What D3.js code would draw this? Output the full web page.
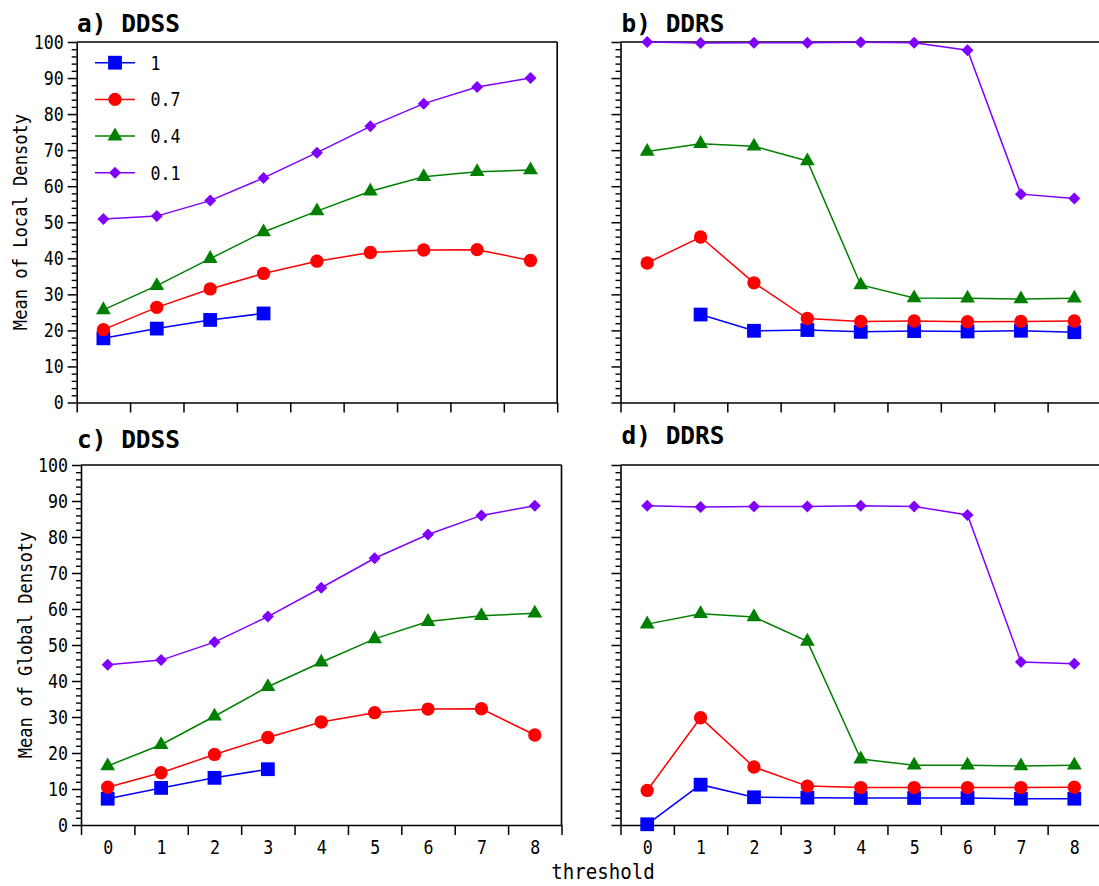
<!DOCTYPE html>
<html>
<head>
<meta charset="utf-8">
<script src="https://cdn.jsdelivr.net/npm/d3@7"></script>
<style>
body { margin: 0; background: #fff; }
text { font-family: "DejaVu Sans Mono", monospace; fill: #000; }
</style>
</head>
<body>
<svg id="chart" width="1099" height="886"></svg>
<script>
// x categories and y ticks
var thresholds = [0, 1, 2, 3, 4, 5, 6, 7, 8];
var seriesNames = ["1", "0.7", "0.4", "0.1"];
var yTicks = [0, 10, 20, 30, 40, 50, 60, 70, 80, 90, 100];

// mean of local density, DDSS
var localDDSS_1 = [17.8, 20.5, 22.9, 24.7, null, null, null, null, null];
var localDDSS_07 = [20.2, 26.4, 31.5, 35.8, 39.2, 41.6, 42.3, 42.4, 39.4];
var localDDSS_04 = [25.7, 32.4, 39.9, 47.3, 53.1, 58.6, 62.6, 64.0, 64.5];
var localDDSS_01 = [50.9, 51.7, 56.0, 62.3, 69.3, 76.6, 82.9, 87.5, 90.0];

// mean of local density, DDRS
var localDDRS_1 = [null, 24.4, 19.9, 20.1, 19.6, 19.8, 19.7, 19.9, 19.5];
var localDDRS_07 = [38.7, 45.9, 33.2, 23.3, 22.5, 22.6, 22.4, 22.5, 22.6];
var localDDRS_04 = [69.6, 71.8, 71.1, 67.0, 32.6, 29.0, 28.9, 28.7, 28.9];
var localDDRS_01 = [100.0, 99.7, 99.8, 99.8, 99.9, 99.8, 97.7, 57.8, 56.6];

// mean of global density, DDSS
var globalDDSS_1 = [7.3, 10.3, 13.1, 15.5, null, null, null, null, null];
var globalDDSS_07 = [10.5, 14.5, 19.6, 24.3, 28.6, 31.2, 32.2, 32.3, 25.0];
var globalDDSS_04 = [16.4, 22.3, 30.2, 38.4, 45.2, 51.7, 56.5, 58.1, 58.8];
var globalDDSS_01 = [44.5, 45.8, 50.8, 57.9, 65.9, 74.1, 80.7, 86.0, 88.7];

// mean of global density, DDRS
var globalDDRS_1 = [0.2, 11.2, 7.7, 7.6, 7.5, 7.5, 7.5, 7.3, 7.3];
var globalDDRS_07 = [9.6, 29.8, 16.1, 10.8, 10.4, 10.4, 10.4, 10.4, 10.5];
var globalDDRS_04 = [55.8, 58.7, 57.8, 51.0, 18.3, 16.6, 16.6, 16.4, 16.6];
var globalDDRS_01 = [88.7, 88.3, 88.5, 88.5, 88.7, 88.5, 86.1, 45.3, 44.8];

var colors = ["#0000ff", "#ff0000", "#008000", "#8000ff"];
var symbols = [
  d3.symbol().type(d3.symbolSquare).size(190),
  d3.symbol().type(d3.symbolCircle).size(140),
  d3.symbol().type(d3.symbolTriangle).size(95),
  d3.symbol().type(d3.symbolSquare).size(72)
];
var symbolRotate = [0, 0, 0, 45];

var svg = d3.select("#chart");

var panels = [
  {title: "a) DDSS", left: 76.7, top: 42, bottom: 402.5, tx: 77, ty: 31.5, yLabels: true, xLabels: false,
   series: [localDDSS_1, localDDSS_07, localDDSS_04, localDDSS_01]},
  {title: "b) DDRS", left: 620.5, top: 42, bottom: 402.5, tx: 621.5, ty: 32, yLabels: false, xLabels: false,
   series: [localDDRS_1, localDDRS_07, localDDRS_04, localDDRS_01]},
  {title: "c) DDSS", left: 81, top: 465, bottom: 825, tx: 77, ty: 448, yLabels: true, xLabels: true,
   series: [globalDDSS_1, globalDDSS_07, globalDDSS_04, globalDDSS_01]},
  {title: "d) DDRS", left: 620.5, top: 465, bottom: 825, tx: 621.5, ty: 444, yLabels: false, xLabels: true,
   series: [globalDDRS_1, globalDDRS_07, globalDDRS_04, globalDDRS_01]}
];

function monoText(sel, adv) {
  sel.attr("textLength", function() { return this.textContent.length * adv; })
    .attr("lengthAdjust", "spacingAndGlyphs");
}

panels.forEach(function(p) {
  var w = 480.5;
  var x = d3.scaleLinear().domain([-0.5, 8.5]).range([p.left, p.left + w]);
  var y = d3.scaleLinear().domain([0, 100]).range([p.bottom, p.top]);
  var g = svg.append("g");

  // frame top and right
  g.append("line").attr("x1", p.left).attr("x2", p.left + w).attr("y1", p.top).attr("y2", p.top)
    .attr("stroke", "#000").attr("stroke-width", 1.6);
  g.append("line").attr("x1", p.left + w).attr("x2", p.left + w).attr("y1", p.top).attr("y2", p.bottom)
    .attr("stroke", "#000").attr("stroke-width", 1.6);

  // x axis, ticks at the bin edges
  var xa = g.append("g").attr("transform", "translate(0," + p.bottom + ")")
    .call(d3.axisBottom(x).tickValues(d3.range(-0.5, 9, 1)).tickSize(10).tickSizeOuter(0).tickFormat(""));
  xa.select(".domain").attr("stroke-width", 1.6);
  xa.selectAll(".tick line").attr("stroke-width", 1.5);

  if (p.xLabels) {
    var xl = g.append("g").attr("transform", "translate(0," + p.bottom + ")")
      .call(d3.axisBottom(x).tickValues(thresholds).tickSize(0).tickPadding(16).tickFormat(d3.format("d")));
    xl.select(".domain").remove();
    xl.attr("font-family", null).attr("font-size", 19);
    monoText(xl.selectAll("text"), 10);
  }

  // minor y ticks
  var ym = g.append("g").attr("transform", "translate(" + p.left + ",0)")
    .call(d3.axisLeft(y).tickValues(d3.range(0, 101, 2).filter(function(v) { return v % 10; }))
      .tickSize(5).tickSizeOuter(0).tickFormat(""));
  ym.select(".domain").remove();
  ym.selectAll(".tick line").attr("stroke-width", 1.4);

  // major y ticks
  var ya = g.append("g").attr("transform", "translate(" + p.left + ",0)")
    .call(d3.axisLeft(y).tickValues(yTicks).tickSize(9).tickSizeOuter(0).tickPadding(4)
      .tickFormat(p.yLabels ? d3.format("d") : ""));
  ya.select(".domain").attr("stroke-width", 1.6);
  ya.selectAll(".tick line").attr("stroke-width", 1.5);
  ya.attr("font-family", null).attr("font-size", 19);
  monoText(ya.selectAll("text"), 10);

  // series, blue first so the others sit on top
  p.series.forEach(function(vals, i) {
    var pts = vals.map(function(v, j) { return {t: thresholds[j], v: v}; })
      .filter(function(d) { return d.v != null; });
    var line = d3.line().x(function(d) { return x(d.t); }).y(function(d) { return y(d.v); });
    g.append("path").datum(pts).attr("d", line)
      .attr("fill", "none").attr("stroke", colors[i]).attr("stroke-width", 1.5);
    g.selectAll(".m" + i).data(pts).enter().append("path")
      .attr("class", "m" + i)
      .attr("d", symbols[i])
      .attr("transform", function(d) {
        return "translate(" + x(d.t) + "," + y(d.v) + ") rotate(" + symbolRotate[i] + ")";
      })
      .attr("fill", colors[i]);
  });

  // panel title
  g.append("text").attr("x", p.tx).attr("y", p.ty).attr("font-size", 24).attr("font-weight", "bold")
    .attr("textLength", 103).attr("lengthAdjust", "spacingAndGlyphs").text(p.title);
});

// legend inside panel a
var legend = svg.append("g");
seriesNames.forEach(function(name, i) {
  var ly = 62.7 + i * 36.7;
  legend.append("line").attr("x1", 95).attr("x2", 135).attr("y1", ly).attr("y2", ly)
    .attr("stroke", colors[i]).attr("stroke-width", 1.5);
  legend.append("path").attr("d", symbols[i])
    .attr("transform", "translate(115," + ly + ") rotate(" + symbolRotate[i] + ")")
    .attr("fill", colors[i]);
  var t = legend.append("text").attr("x", 150.5).attr("y", ly).attr("dy", "0.36em")
    .attr("font-size", 19).text(name);
  monoText(t, 10);
});

// axis titles
var t1 = svg.append("text").attr("transform", "translate(26.5,222) rotate(-90)")
  .attr("text-anchor", "middle").attr("font-size", 19).text("Mean of Local Densoty");
monoText(t1, 10.3);
var t2 = svg.append("text").attr("transform", "translate(32,645) rotate(-90)")
  .attr("text-anchor", "middle").attr("font-size", 19).text("Mean of Global Densoty");
monoText(t2, 10.3);
var t3 = svg.append("text").attr("x", 603).attr("y", 879)
  .attr("text-anchor", "middle").attr("font-size", 22).text("threshold");
monoText(t3, 11.5);
</script>
</body>
</html>
